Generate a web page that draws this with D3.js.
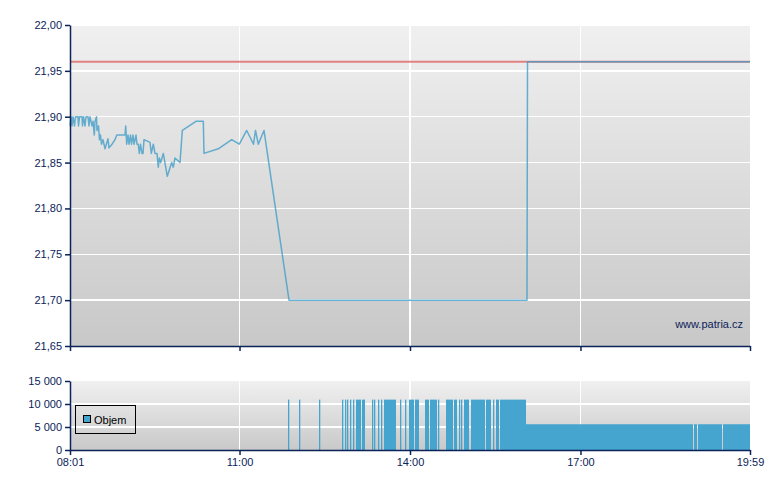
<!DOCTYPE html>
<html>
<head>
<meta charset="utf-8">
<script src="https://cdn.jsdelivr.net/npm/d3@7/dist/d3.min.js"></script>
<style>
  html, body { margin: 0; padding: 0; background: #ffffff; }
  svg { display: block; }
  text { font-family: "Liberation Sans", Arial, sans-serif; font-size: 11px; }
</style>
</head>
<body>
<svg id="chart" width="780" height="490"></svg>
<script>
// ---------- DATA ----------
const priceTimes = [
  "08:01:00","08:02:04","08:03:07","08:04:10","08:05:45","08:06:49","08:09:27","08:09:59","08:11:02","08:13:40",
  "08:14:12","08:15:15","08:16:50","08:17:53","08:20:01","08:21:04","08:22:07","08:24:14","08:25:17","08:26:40",
  "08:27:24","08:28:59","08:29:31","08:31:05","08:32:09","08:33:12","08:34:16","08:35:50","08:37:58","08:41:07",
  "08:42:11","08:45:21","08:48:31","08:50:19","08:59:04","08:59:49","09:00:52","09:02:14","09:03:18","09:04:53",
  "09:05:56","09:07:31","09:08:35","09:10:41","09:11:44","09:13:07","09:14:10","09:15:26","09:17:01","09:18:05",
  "09:19:08","09:25:28","09:26:50","09:28:57","09:30:45","09:32:52","09:34:14","09:35:17","09:36:46","09:39:31",
  "09:43:44","09:48:23","09:50:04","09:51:52","09:57:09","09:59:35","10:14:02","10:21:45","10:22:29","10:37:35",
  "10:51:44","10:59:46","11:07:35","11:14:46","11:16:52","11:19:50","11:25:50","11:52:14","16:03:32","16:04:04",
  "19:59:00"
];
const priceValues = [
  21.89,21.90,21.89,21.90,21.89,21.90,21.90,21.89,21.90,21.90,
  21.89,21.90,21.89,21.90,21.90,21.89,21.90,21.89,21.895,21.88,
  21.895,21.90,21.885,21.89,21.875,21.88,21.87,21.875,21.865,21.876,
  21.866,21.87,21.875,21.88,21.88,21.89,21.87,21.88,21.87,21.88,
  21.87,21.88,21.87,21.88,21.87,21.87,21.86,21.87,21.86,21.86,
  21.875,21.872,21.86,21.87,21.86,21.86,21.845,21.855,21.85,21.86,
  21.835,21.85,21.845,21.855,21.85,21.885,21.895,21.895,21.86,21.865,
  21.875,21.87,21.885,21.87,21.885,21.87,21.885,21.70,21.70,21.96,
  21.96
];
const prevClose = 21.96;

const volStart = [
  "11:51","12:03","12:24","12:48","12:51","12:54","12:57","13:00","13:03","13:09",
  "13:20","13:22","13:26","13:29","13:33","13:49","13:55","13:59","14:05","14:16",
  "14:21","14:30","14:38","14:46","14:52","14:54","14:57","15:04","15:20","15:28",
  "15:31","15:35","16:03","19:00","19:04","19:30"
];
const volEnd = [
  "11:52","12:04","12:25","12:49","12:52","12:55","12:58","13:01","13:08","13:13",
  "13:21","13:23","13:27","13:30","13:45","13:50","13:56","14:04","14:10","14:20",
  "14:29","14:31","14:45","14:50","14:53","14:55","15:02","15:19","15:25","15:29",
  "15:34","16:03","18:59","19:03","19:29","19:59"
];
const volValues = [
  10950,10950,10950,10950,10950,10950,10950,10950,10950,10950,
  10950,10950,10950,10950,10950,10950,10950,10950,10950,10950,
  10950,10950,10950,10950,10950,10950,10950,10950,10950,10950,
  10950,10950,5600,5600,5600,5600
];

const xTickLabels = ["08:01","11:00","14:00","17:00","19:59"];
const priceTicks = [21.65,21.70,21.75,21.80,21.85,21.90,21.95,22.00];
const volTicks = [0,5000,10000,15000];
const legendLabel = "Objem";
const watermark = "www.patria.cz";

// ---------- SETUP ----------
const svg = d3.select("#chart");
const pT = d3.timeParse("%H:%M:%S");
const pM = d3.timeParse("%H:%M");
const navy = "#0b2358";
const lineBlue = "#3f9cc8";
const volBlue = "#45a5cf";

const L = 70, R = 750;
const mainTop = 25, mainBot = 346;
const volTop = 381, volBot = 450;

const x = d3.scaleTime()
  .domain([pM(xTickLabels[0]), pM(xTickLabels[xTickLabels.length-1])])
  .range([L, R]);
const y = d3.scaleLinear().domain([21.65, 22.00]).range([mainBot, mainTop]);
const yv = d3.scaleLinear().domain([0, 15000]).range([volBot, volTop]);

const defs = svg.append("defs");
function grad(id, c1, c2) {
  const g = defs.append("linearGradient").attr("id", id)
    .attr("x1", 0).attr("y1", 0).attr("x2", 0).attr("y2", 1);
  g.append("stop").attr("offset", "0%").attr("stop-color", c1);
  g.append("stop").attr("offset", "100%").attr("stop-color", c2);
}
grad("gMain", "#f0f0f0", "#c8c8c8");
grad("gVol", "#f0f0f0", "#c9c9c9");

// backgrounds
svg.append("rect").attr("x", L).attr("y", mainTop).attr("width", R - L).attr("height", mainBot - mainTop)
  .attr("fill", "url(#gMain)");
svg.append("rect").attr("x", L).attr("y", volTop).attr("width", R - L).attr("height", volBot - volTop)
  .attr("fill", "url(#gVol)");

// gridlines
const vTicks = xTickLabels.slice(1, -1).map(pM);
const gGrid = svg.append("g").attr("stroke", "#ffffff").attr("stroke-width", 1.5).attr("shape-rendering", "crispEdges");
gGrid.selectAll(".hm").data(priceTicks.slice(1)).join("line")
  .attr("x1", L).attr("x2", R).attr("y1", d => y(d)).attr("y2", d => y(d));
gGrid.selectAll(".vm").data(vTicks).join("line").attr("class", "vm")
  .attr("x1", d => x(d)).attr("x2", d => x(d)).attr("y1", mainTop).attr("y2", mainBot);
gGrid.selectAll(".hv").data(volTicks.slice(1, -1)).join("line").attr("class", "hv")
  .attr("x1", L).attr("x2", R).attr("y1", d => yv(d)).attr("y2", d => yv(d));
gGrid.selectAll(".vv").data(vTicks).join("line").attr("class", "vv")
  .attr("x1", d => x(d)).attr("x2", d => x(d)).attr("y1", volTop).attr("y2", volBot);

// previous close line
svg.append("line")
  .attr("x1", L).attr("x2", R).attr("y1", y(prevClose)).attr("y2", y(prevClose))
  .attr("stroke", "#e06e6e").attr("stroke-width", 2).attr("opacity", 0.85);

// price line
const priceData = priceTimes.map((t, i) => ({ t: pT(t), v: priceValues[i] }));
svg.append("path").datum(priceData)
  .attr("fill", "none").attr("stroke", lineBlue).attr("stroke-width", 1.5).attr("opacity", 0.78)
  .attr("stroke-linejoin", "round")
  .attr("d", d3.line().x(d => x(d.t)).y(d => y(d.v)));

// volume bars
const volData = volStart.map((s, i) => ({ s: pM(s), e: pM(volEnd[i]), v: volValues[i] }));
svg.append("g").selectAll("rect").data(volData).join("rect")
  .attr("x", d => Math.round(x(d.s)))
  .attr("width", d => Math.max(1.3, Math.round(x(d.e)) - Math.round(x(d.s))))
  .attr("y", d => yv(d.v))
  .attr("height", d => volBot - yv(d.v))
  .attr("fill", volBlue);

// axes
const fmtPrice = d => d3.format(".2f")(d).replace(".", ",");
const fmtVol = d => d3.format(",")(d).replace(/,/g, " ");

function styleAxis(g) {
  g.select(".domain").attr("stroke", navy).attr("stroke-width", 1.5);
  g.selectAll(".tick line").attr("stroke", navy).attr("stroke-width", 1.5);
  g.selectAll(".tick text").attr("fill", navy)
    .style("font-family", '"Liberation Sans", Arial, sans-serif').style("font-size", "11px");
}

const yAxisMain = svg.append("g").attr("transform", `translate(${L},0)`)
  .call(d3.axisLeft(y).tickValues(priceTicks).tickFormat(fmtPrice).tickSize(5).tickSizeOuter(0).tickPadding(3));
styleAxis(yAxisMain);

const xAxisMain = svg.append("g").attr("transform", `translate(0,${mainBot})`)
  .call(d3.axisBottom(x).tickValues(xTickLabels.map(pM)).tickFormat("").tickSize(5).tickSizeOuter(0));
styleAxis(xAxisMain);

const yAxisVol = svg.append("g").attr("transform", `translate(${L},0)`)
  .call(d3.axisLeft(yv).tickValues(volTicks).tickFormat(fmtVol).tickSize(5).tickSizeOuter(0).tickPadding(3));
styleAxis(yAxisVol);

const xAxisVol = svg.append("g").attr("transform", `translate(0,${volBot})`)
  .call(d3.axisBottom(x).tickValues(xTickLabels.map(pM)).tickFormat(d3.timeFormat("%H:%M")).tickSize(5).tickSizeOuter(0).tickPadding(3));
styleAxis(xAxisVol);

// watermark
svg.append("text").attr("x", 743).attr("y", 328).attr("text-anchor", "end")
  .attr("fill", navy).text(watermark);

// legend
const lg = svg.append("g");
lg.append("rect").attr("x", 75.5).attr("y", 405.5).attr("width", 60).attr("height", 28)
  .attr("fill", "none").attr("stroke", "#000000").attr("stroke-width", 1);
lg.append("rect").attr("x", 83.5).attr("y", 415.5).attr("width", 7).attr("height", 7)
  .attr("fill", volBlue).attr("stroke", "#000000").attr("stroke-width", 1);
lg.append("text").attr("x", 94).attr("y", 423.5).attr("fill", "#000000").text(legendLabel);
</script>
</body>
</html>
